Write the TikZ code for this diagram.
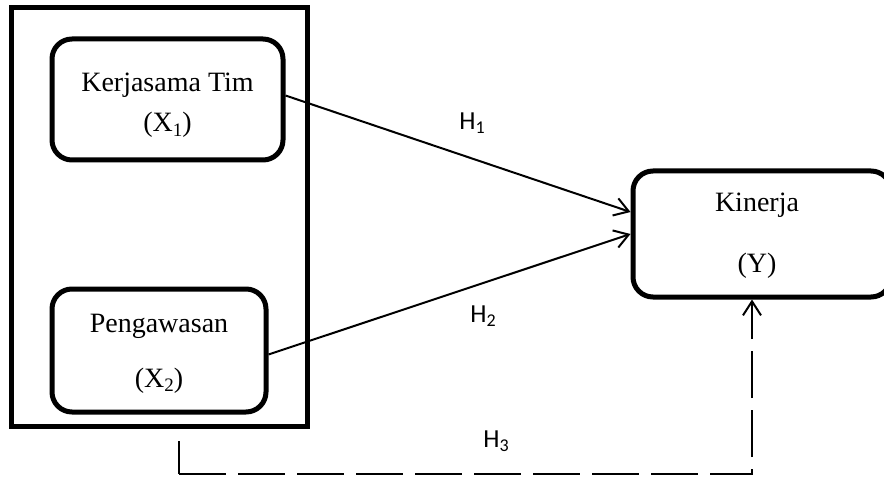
\documentclass[tikz,border=0pt]{standalone}
\usepackage{fontspec}
\setmainfont{Liberation Serif}
\newfontfamily\labelfont{Carlito}
\usetikzlibrary{arrows.meta,calc}

% subscript helpers
\newcommand{\serifsub}[1]{\raisebox{-2.2pt}{\fontsize{9.5}{10}\selectfont #1}}
\newcommand{\sanssub}[1]{\raisebox{-2pt}{\fontsize{9}{10}\selectfont #1}}

\tikzset{
  varbox/.style={draw, line width=2.5pt, rounded corners=10pt, inner sep=0pt},
  boxtext/.style={inner sep=0pt, anchor=base, font=\fontsize{14}{16}\selectfont},
  hyplabel/.style={inner sep=0pt, font=\labelfont\fontsize{13}{15}\selectfont},
  path arrow/.style={line width=1pt, -{Straight Barb[length=7pt,width=9pt,line width=1pt]}},
  long dash/.style={line width=1pt, dash pattern=on 23.5pt off 6pt}
}

\begin{document}
\begin{tikzpicture}[x=0.5pt, y=-0.5pt]
  \useasboundingbox (0,0) rectangle (884,481);

  % grouping frame around the two independent variables
  \node[draw, line width=2.5pt, minimum width=148.25pt, minimum height=209.5pt, inner sep=0pt]
    (frame) at (159.25,217) {};

  % variable boxes
  \node[varbox, minimum width=115.5pt, minimum height=60.5pt] (x1) at (167.5,99.5) {};
  \node[varbox, minimum width=107pt, minimum height=61.5pt] (x2) at (159,350.5) {};
  \node[varbox, minimum width=129pt, minimum height=63pt] (y) at (762,234) {};

  % box captions
  \node[boxtext] (t1a) at (167.5,92) {Kerjasama Tim};
  \node[boxtext] (t1b) at (167.5,132) {(X\serifsub{1})};
  \node[boxtext] (t2a) at (159,332) {Pengawasan};
  \node[boxtext] (t2b) at (159,387) {(X\serifsub{2})};
  \node[boxtext] (t3a) at (757,212) {Kinerja};
  \node[boxtext] (t3b) at (757,272) {(Y)};

  % hypothesis paths
  \draw[path arrow] ([yshift=2pt]x1.east) -- ([yshift=11pt]y.west);
  \draw[path arrow] ([yshift=-2pt]x2.east) -- (y.west);

  % simultaneous effect path (dashed)
  \coordinate (d0) at (179,441);
  \coordinate (d1) at (179,474);
  \coordinate (d2) at (752,474);
  \draw[line width=1pt] (d0) -- (d1);
  \draw[long dash, -{Straight Barb[length=7pt,width=9pt,line width=1pt]}]
    (d1) -- (d2) -- (d2 |- y.south);

  % hypothesis labels
  \node[hyplabel] (h1) at (472,123) {H\sanssub{1}};
  \node[hyplabel] (h2) at (483,316) {H\sanssub{2}};
  \node[hyplabel] (h3) at (496,441) {H\sanssub{3}};
\end{tikzpicture}
\end{document}
